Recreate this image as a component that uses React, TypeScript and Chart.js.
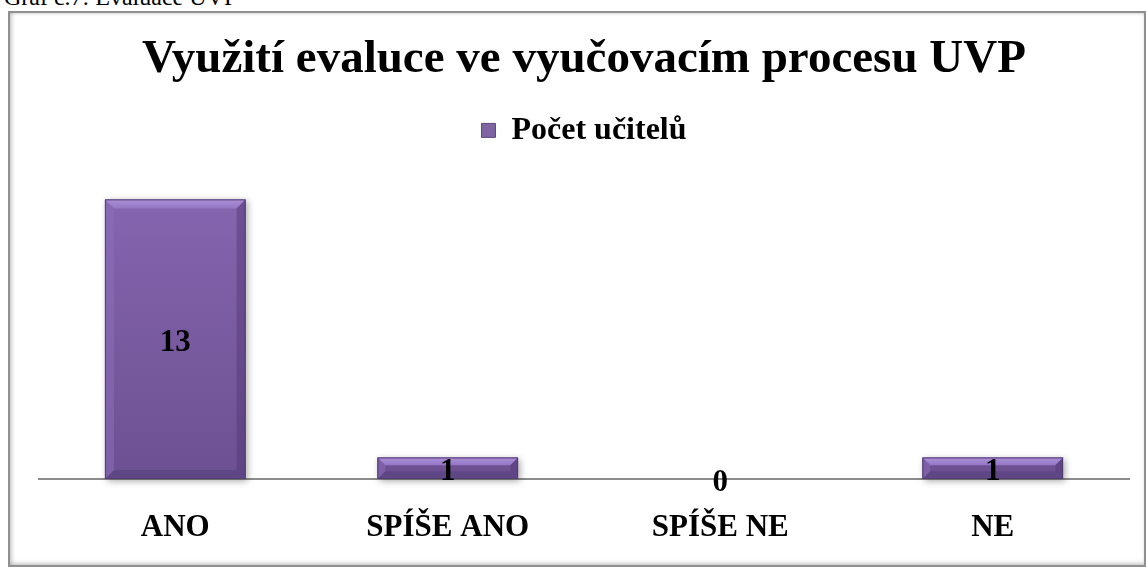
import React, { useEffect, useRef } from "react";
import { Chart, registerables } from "chart.js";

Chart.register(...registerables);

const captionText = "Graf č.7: Evaluace UVP";
const chartTitle = "Využití evaluce ve vyučovacím procesu UVP";
const seriesName = "Počet učitelů";
const categories = ["ANO", "SPÍŠE ANO", "SPÍŠE NE", "NE"];
const teacherCounts = [13, 1, 0, 1];
const yMax = 15;

const FONT = '"Liberation Serif", "Times New Roman", serif';

function poly(ctx: CanvasRenderingContext2D, pts: number[][], fill: any) {
  ctx.beginPath();
  ctx.moveTo(pts[0][0], pts[0][1]);
  for (let i = 1; i < pts.length; i++) ctx.lineTo(pts[i][0], pts[i][1]);
  ctx.closePath();
  ctx.fillStyle = fill;
  ctx.fill();
}

function barBox(bar: any) {
  const { x, y, base, width } = bar.getProps(["x", "y", "base", "width"], true);
  const left = x - width / 2;
  const right = x + width / 2;
  const top = Math.min(y, base);
  const bottom = Math.max(y, base);
  return { x, left, right, top, bottom, width, h: bottom - top };
}

const bevelPlugin = {
  id: "bevelBars",
  beforeDatasetsDraw(chart: any) {
    const ctx = chart.ctx as CanvasRenderingContext2D;
    const meta = chart.getDatasetMeta(0);
    ctx.save();
    meta.data.forEach((bar: any) => {
      const b = barBox(bar);
      if (b.h < 1) return;
      ctx.shadowColor = "rgba(0,0,0,0.35)";
      ctx.shadowBlur = 7;
      ctx.shadowOffsetX = 2;
      ctx.shadowOffsetY = 2;
      ctx.fillStyle = "#6c4f91";
      ctx.fillRect(b.left, b.top, b.width, b.h);
    });
    ctx.restore();
  },
  afterDatasetsDraw(chart: any) {
    const ctx = chart.ctx as CanvasRenderingContext2D;
    const meta = chart.getDatasetMeta(0);
    const ds = chart.data.datasets[0];
    ctx.save();
    meta.data.forEach((bar: any, i: number) => {
      const b = barBox(bar);
      if (b.h >= 1) {
        const bv = Math.min(9, b.h * 0.36, b.width / 4);
        const { left, right, top, bottom } = b;
        const tg = ctx.createLinearGradient(0, top, 0, top + bv);
        tg.addColorStop(0, "#ad90d8");
        tg.addColorStop(1, "#9477c4");
        poly(ctx, [[left, top], [right, top], [right - bv, top + bv], [left + bv, top + bv]], tg);
        poly(ctx, [[left, bottom], [right, bottom], [right - bv, bottom - bv], [left + bv, bottom - bv]], "#5f4684");
        poly(ctx, [[left, top], [left + bv, top + bv], [left + bv, bottom - bv], [left, bottom]], "rgba(140,110,185,0.55)");
        poly(ctx, [[right, top], [right - bv, top + bv], [right - bv, bottom - bv], [right, bottom]], "rgba(80,55,115,0.45)");
        ctx.strokeStyle = "rgba(80,60,110,0.9)";
        ctx.lineWidth = 1;
        ctx.strokeRect(left + 0.5, top + 0.5, b.width - 1, b.h - 1);
      }
      const v = ds.data[i];
      ctx.fillStyle = "#000";
      ctx.font = `bold 31px ${FONT}`;
      ctx.textAlign = "center";
      ctx.textBaseline = "middle";
      ctx.fillText(String(v), b.x, (b.top + b.bottom) / 2 + 4);
    });
    ctx.restore();
  },
};

export default function App() {
  const canvasRef = useRef<HTMLCanvasElement | null>(null);

  useEffect(() => {
    const canvas = canvasRef.current;
    if (!canvas) return;
    const chart = new Chart(canvas, {
      type: "bar",
      data: {
        labels: categories,
        datasets: [
          {
            label: seriesName,
            data: teacherCounts,
            backgroundColor: (c: any) => {
              const area = c.chart.chartArea;
              if (!area) return "#8064a2";
              const g = c.chart.ctx.createLinearGradient(0, area.top, 0, area.bottom);
              g.addColorStop(0, "#8868b3");
              g.addColorStop(1, "#6d5092");
              return g;
            },
            borderWidth: 0,
            categoryPercentage: 1,
            barPercentage: 0.516,
          },
        ],
      },
      options: {
        responsive: false,
        animation: false,
        events: [],
        layout: { padding: { left: 39, right: 17, top: 0, bottom: 0 } },
        plugins: {
          title: {
            display: true,
            text: chartTitle,
            color: "#000",
            font: { family: FONT, size: 47, weight: "bold" },
            padding: { top: 32, bottom: 10 },
          },
          legend: {
            display: true,
            position: "top",
            labels: {
              color: "#000",
              font: { family: FONT, size: 32, weight: "bold" },
              boxWidth: 14,
              boxHeight: 14,
              padding: 16,
              generateLabels: () => [
                {
                  text: seriesName,
                  fillStyle: "#8064a2",
                  strokeStyle: "#5f4684",
                  lineWidth: 1,
                  hidden: false,
                  datasetIndex: 0,
                },
              ],
            },
          },
          tooltip: { enabled: false },
        },
        scales: {
          x: {
            grid: { display: false },
            border: { display: true, color: "#8c8c8c", width: 2 },
            ticks: {
              color: "#000",
              font: { family: FONT, size: 31, weight: "bold" },
              padding: 22,
              maxRotation: 0,
            },
            afterFit: (scale: any) => {
              scale.height = 89;
            },
          },
          y: {
            display: false,
            min: 0,
            max: yMax,
          },
        },
      },
      plugins: [bevelPlugin],
    });
    return () => chart.destroy();
  }, []);

  return (
    <div style={{ position: "absolute", left: 0, top: 0, width: 1146, height: 568, overflow: "hidden", background: "#fff" }}>
      <div
        style={{
          position: "absolute",
          left: 4,
          top: -16,
          fontFamily: FONT,
          fontSize: 24,
          lineHeight: "27px",
          whiteSpace: "nowrap",
          color: "#000",
        }}
      >
        {captionText}
      </div>
      <div
        style={{
          position: "absolute",
          left: 8,
          top: 11,
          width: 1138,
          height: 556,
          boxSizing: "border-box",
          border: "2px solid #909090",
          boxShadow: "inset 3px 0 4px -1px rgba(0,0,0,0.18), inset 0 -3px 4px -1px rgba(0,0,0,0.18), inset 0 3px 3px -2px rgba(0,0,0,0.1)",
        }}
      />
      <canvas ref={canvasRef} width={1146} height={568} style={{ position: "absolute", left: 0, top: 0 }} />
    </div>
  );
}
